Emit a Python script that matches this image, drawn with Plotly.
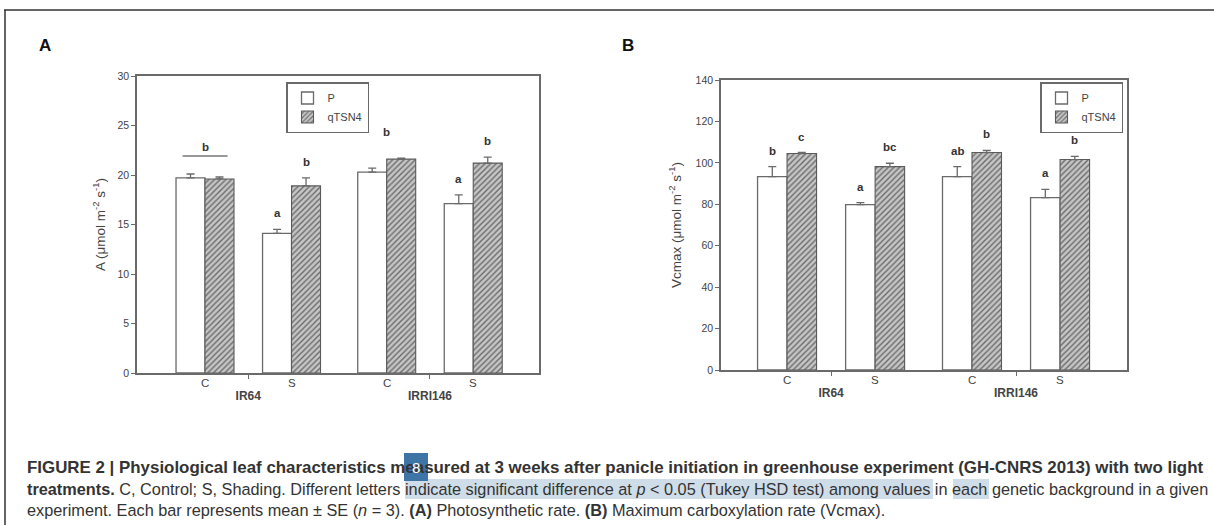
import plotly.graph_objects as go

# ---------------- data ----------------
genotypes = ["IR64", "IRRI146"]
treatments = ["C", "S"]
lines = ["P", "qTSN4"]

# Panel A: photosynthetic rate (order: IR64-C, IR64-S, IRRI146-C, IRRI146-S)
A_P_mean = [19.7, 14.1, 20.3, 17.1]
A_P_se = [0.4, 0.4, 0.4, 0.9]
A_Q_mean = [19.6, 18.9, 21.6, 21.2]
A_Q_se = [0.2, 0.8, 0.1, 0.6]
A_P_letters = ["", "a", "", "a"]
A_Q_letters = ["", "b", "", "b"]
A_pair_letters = ["b", "", "b", ""]
A_pair_line = [True, False, False, False]

# Panel B: Vcmax
V_P_mean = [93.4, 79.8, 93.4, 83.2]
V_P_se = [4.8, 1.0, 4.8, 4.0]
V_Q_mean = [104.5, 98.2, 105.0, 101.6]
V_Q_se = [0.5, 1.6, 1.0, 1.5]
V_P_letters = ["b", "a", "ab", "a"]
V_Q_letters = ["c", "bc", "b", "b"]
V_pair_letters = ["", "", "", ""]
V_pair_line = [False, False, False, False]

A_ticks = [0, 5, 10, 15, 20, 25, 30]
V_ticks = [0, 20, 40, 60, 80, 100, 120, 140]

# ---------------- layout helpers ----------------
W, H = 1214, 525
GROUP_STEP = 2.1
BAR_W = 0.335

xpos = [gi * GROUP_STEP + ti for gi in range(len(genotypes)) for ti in range(len(treatments))]
tlabels = [t for _ in genotypes for t in treatments]
gcenters = [gi * GROUP_STEP + 0.5 for gi in range(len(genotypes))]

AXC = "#6a6a6a"
TXT = "#444444"
FONT = "Liberation Sans, Arial, sans-serif"


def px(x):
    return x / W


def py(y):
    return 1 - y / H


fig = go.Figure()

panels = [
    dict(xa="x", ya="y", xaxis="xaxis", yaxis="yaxis", legend="legend",
         P=A_P_mean, Pse=A_P_se, Q=A_Q_mean, Qse=A_Q_se,
         Pl=A_P_letters, Ql=A_Q_letters, pair=A_pair_letters, pline=A_pair_line,
         dom_x=[px(137), px(539)], dom_y=[py(373), py(76)], rng=[0, 30], ticks=A_ticks,
         xr=[-0.786, 3.86], title="A (μmol m<sup>-2</sup> s<sup>-1</sup>)", standoff=9,
         leg=(286, 82)),
    dict(xa="x2", ya="y2", xaxis="xaxis2", yaxis="yaxis2", legend="legend2",
         P=V_P_mean, Pse=V_P_se, Q=V_Q_mean, Qse=V_Q_se,
         Pl=V_P_letters, Ql=V_Q_letters, pair=V_pair_letters, pline=V_pair_line,
         dom_x=[px(721), px(1127)], dom_y=[py(370), py(80)], rng=[0, 140], ticks=V_ticks,
         xr=[-0.75, 3.86], title="Vcmax (μmol m<sup>-2</sup> s<sup>-1</sup>)", standoff=11,
         leg=(1040, 82)),
]

annotations = []
shapes = []

for p in panels:
    err_style = dict(type="data", symmetric=False, color=AXC, thickness=1.3, width=4)
    fig.add_trace(go.Bar(
        x=xpos, y=p["P"], name=lines[0], width=BAR_W, offset=-BAR_W,
        marker=dict(color="white", line=dict(color=AXC, width=1.3)),
        error_y=dict(array=p["Pse"], arrayminus=[0] * len(xpos), **err_style),
        xaxis=p["xa"], yaxis=p["ya"], legend=p["legend"],
    ))
    fig.add_trace(go.Bar(
        x=xpos, y=p["Q"], name=lines[1], width=BAR_W, offset=0,
        marker=dict(color="#c4c4c4", line=dict(color="#5a5a5a", width=1.1),
                    pattern=dict(shape="/", bgcolor="#c6c6c6", fgcolor="#6a6a6a",
                                 size=4, solidity=0.35, fillmode="replace")),
        error_y=dict(array=p["Qse"], arrayminus=[0] * len(xpos), **err_style),
        xaxis=p["xa"], yaxis=p["ya"], legend=p["legend"],
    ))

    fig.update_layout(**{
        p["xaxis"]: dict(domain=p["dom_x"], range=p["xr"], anchor=p["ya"], automargin=False,
                         showline=True, mirror=True, linecolor=AXC, linewidth=1.5,
                         showgrid=False, zeroline=False,
                         tickvals=gcenters, ticktext=["<b>%s</b>" % g for g in genotypes],
                         ticks="outside", ticklen=4, tickcolor=AXC, tickwidth=1.2,
                         ticklabelstandoff=7,
                         tickfont=dict(family=FONT, size=12, color=TXT)),
        p["yaxis"]: dict(domain=p["dom_y"], range=p["rng"], anchor=p["xa"], automargin=False,
                         showline=True, mirror=True, linecolor=AXC, linewidth=1.5,
                         showgrid=False, zeroline=False,
                         tickvals=p["ticks"], ticks="outside", ticklen=4, tickcolor=AXC,
                         tickwidth=1.2,
                         tickfont=dict(family=FONT, size=10.5, color=TXT)),
        p["legend"]: dict(x=px(p["leg"][0]), y=py(p["leg"][1]), xanchor="left", yanchor="top",
                          bgcolor="white", bordercolor=AXC, borderwidth=1.5,
                          font=dict(family=FONT, size=11, color=TXT),
                          tracegroupgap=0, itemwidth=30,
                          itemclick=False, itemdoubleclick=False),
    })
    fig.layout[p["yaxis"]].title = dict(text=p["title"], standoff=p["standoff"],
                                        font=dict(family=FONT, size=13.5, color=TXT))

    # treatment labels under each pair
    for x, t in zip(xpos, tlabels):
        annotations.append(dict(x=x, y=0, xref=p["xa"], yref=p["ya"], text=t, showarrow=False,
                                xanchor="center", yanchor="middle",
                                yshift=-10, font=dict(family=FONT, size=11.5, color=TXT)))

    # significance letters
    lf = dict(family=FONT, size=11.5, color="#333")
    for i, x in enumerate(xpos):
        topP = p["P"][i] + p["Pse"][i]
        topQ = p["Q"][i] + p["Qse"][i]
        if p["Pl"][i]:
            annotations.append(dict(x=x - BAR_W / 2, y=topP, xref=p["xa"], yref=p["ya"],
                                    text="<b>%s</b>" % p["Pl"][i], showarrow=False,
                                    xanchor="center", yanchor="middle", yshift=16, font=lf))
        if p["Ql"][i]:
            annotations.append(dict(x=x + BAR_W / 2, y=topQ, xref=p["xa"], yref=p["ya"],
                                    text="<b>%s</b>" % p["Ql"][i], showarrow=False,
                                    xanchor="center", yanchor="middle", yshift=16, font=lf))
        if p["pair"][i]:
            top = max(topP, topQ)
            annotations.append(dict(x=x, y=top, xref=p["xa"], yref=p["ya"],
                                    text="<b>%s</b>" % p["pair"][i], showarrow=False,
                                    xanchor="center", yanchor="middle",
                                    yshift=27 if p["pline"][i] else 26, font=lf))
            if p["pline"][i]:
                shapes.append(dict(type="line", xref=p["xa"], yref=p["ya"],
                                   x0=x - 0.26, x1=x + 0.26, ysizemode="pixel", yanchor=top,
                                   y0=18, y1=18, line=dict(color="#777", width=1.3)))

# panel letters
for lx, lt in [(45, "A"), (628, "B")]:
    annotations.append(dict(x=px(lx), y=py(45), xref="paper", yref="paper", text="<b>%s</b>" % lt,
                            xanchor="center", yanchor="middle", showarrow=False,
                            font=dict(family=FONT, size=17, color="#111")))

# page frame
shapes.append(dict(type="line", xref="paper", yref="paper", x0=px(4), x1=1, y0=py(10), y1=py(10),
                   line=dict(color="#333", width=1.5)))
shapes.append(dict(type="line", xref="paper", yref="paper", x0=px(5), x1=px(5), y0=py(10), y1=0,
                   line=dict(color="#333", width=1.5)))

# highlights behind caption text
shapes.append(dict(type="rect", xref="paper", yref="paper", x0=px(405), x1=px(933),
                   y0=py(499), y1=py(479), fillcolor="#cfdde9", line=dict(width=0), layer="below"))
shapes.append(dict(type="rect", xref="paper", yref="paper", x0=px(953), x1=px(989),
                   y0=py(499), y1=py(479), fillcolor="#cfdde9", line=dict(width=0), layer="below"))

# caption
cap1 = ("<b>FIGURE 2 | Physiological leaf characteristics measured at 3 weeks after panicle "
        "initiation in greenhouse experiment (GH-CNRS 2013) with two light</b>")
cap2 = ("<b>treatments.</b> C, Control; S, Shading. Different letters indicate significant difference "
        "at <i>p</i> &lt; 0.05 (Tukey HSD test) among values in each genetic background in a given")
cap3 = ("experiment. Each bar represents mean ± SE (<i>n</i> = 3). <b>(A)</b> Photosynthetic rate. "
        "<b>(B)</b> Maximum carboxylation rate (Vcmax).")
for yy, txt, fs in [(467, cap1, 16.9), (489, cap2, 16.3), (510, cap3, 16.3)]:
    annotations.append(dict(x=px(25), y=py(yy), xref="paper", yref="paper", text=txt,
                            xanchor="left", yanchor="middle", showarrow=False, align="left",
                            font=dict(family=FONT, size=fs, color="#333")))

# annotation badge
shapes.append(dict(type="rect", xref="paper", yref="paper", x0=px(404), x1=px(428),
                   y0=py(481), y1=py(453), fillcolor="#3f74a6", line=dict(width=0)))
annotations.append(dict(x=px(416), y=py(467), xref="paper", yref="paper", text="8",
                        xanchor="center", yanchor="middle",
                        showarrow=False, font=dict(family=FONT, size=15, color="white")))

fig.update_layout(
    width=W, height=H, margin=dict(l=0, r=0, t=0, b=0, autoexpand=False),
    paper_bgcolor="white", plot_bgcolor="white",
    barmode="overlay", showlegend=True,
    annotations=annotations, shapes=shapes,
    font=dict(family=FONT, color=TXT),
)

fig.write_html("out.html", config={"displayModeBar": False},
               post_script="document.body.style.margin='0';document.body.style.overflow='hidden';")
